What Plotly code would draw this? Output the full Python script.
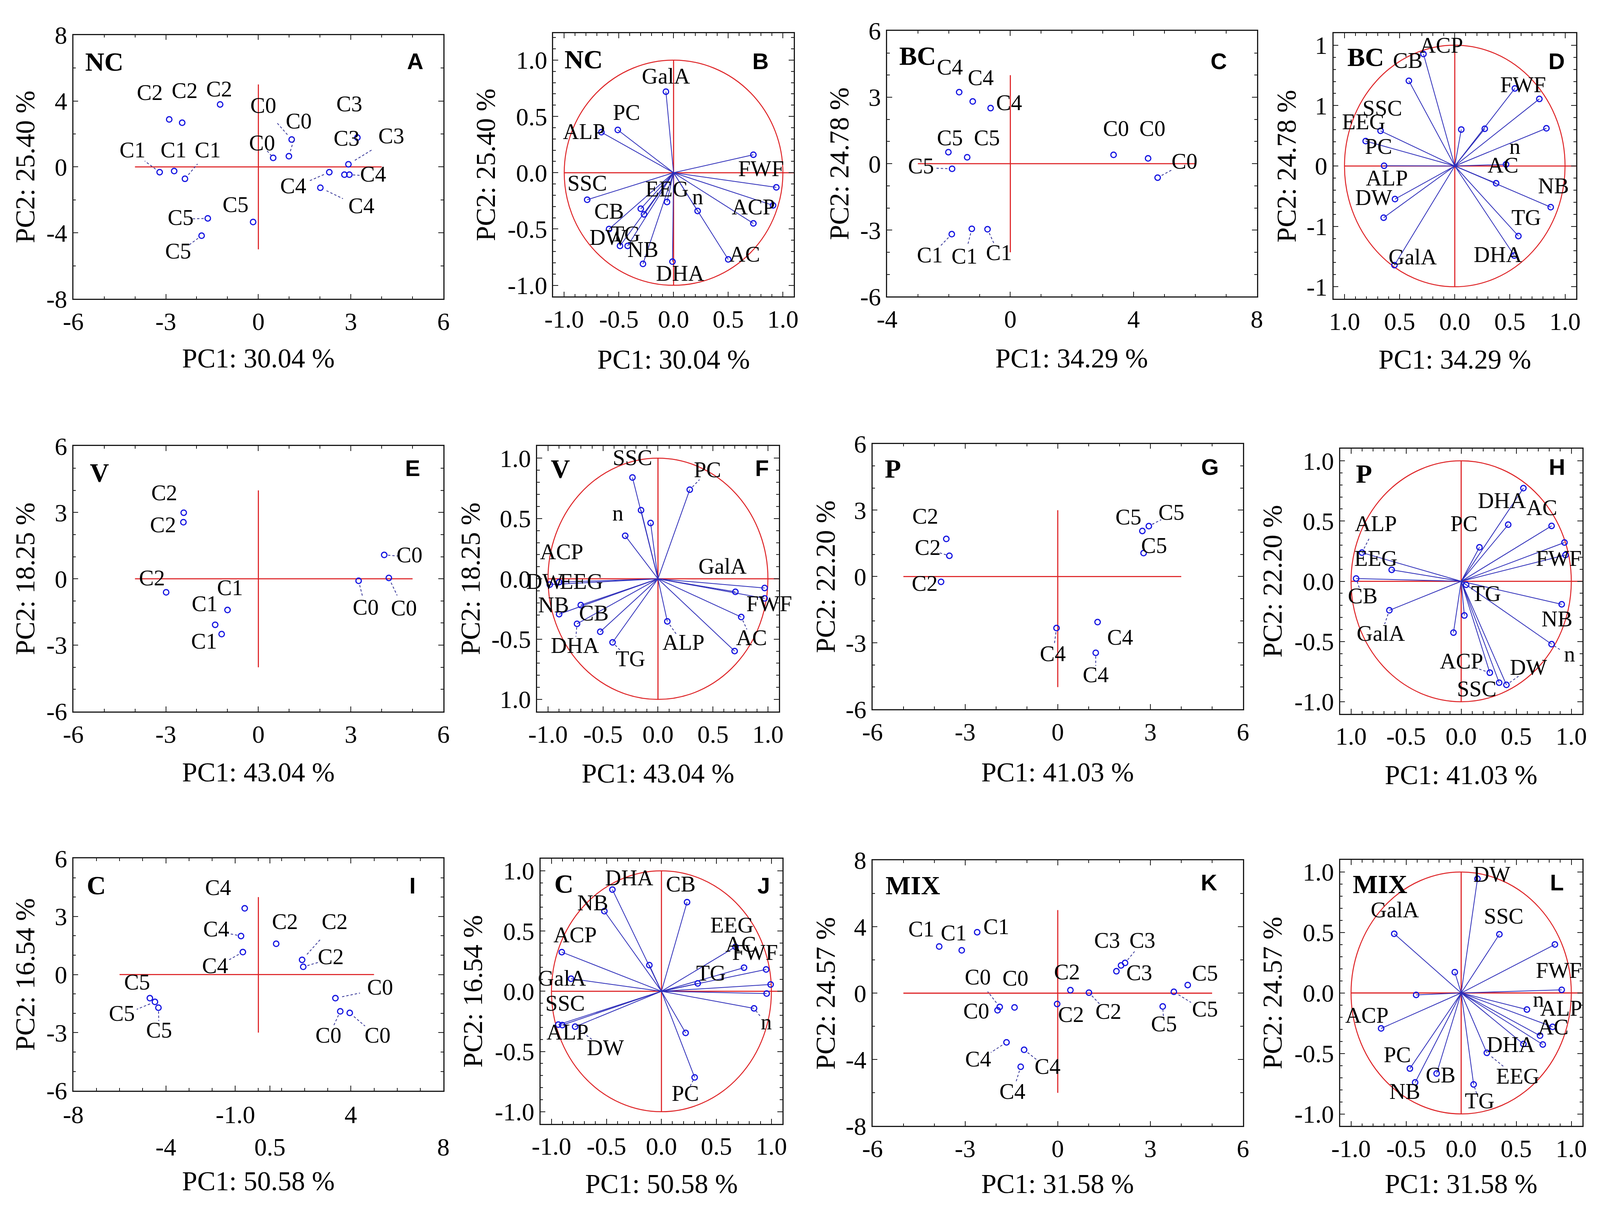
import plotly.graph_objects as go

# reference geometry (pixels of the reference picture) -> paper fractions
RW, RH = 4550, 3119
FIG_W, FIG_H = 4080, 3103          # browser viewport is 4096 x 3119 with an 8 px body margin
SERIF = "Liberation Serif"
SANS = "Liberation Sans"

# ------------------------------------------------------------------ data
# Score plots (samples): PC1, PC2, label position, leader flag
A_sample = ["C2","C2","C2","C0","C0","C0","C3","C3","C3","C4","C4","C4","C1","C1","C1","C5","C5","C5"]
A_pc1 = [-2.89,-2.47,-1.24, 1.08,0.99,0.48, 3.21,2.79,2.92, 2.30,2.95,2.01, -3.20,-2.73,-2.38, -0.17,-1.64,-1.84]
A_pc2 = [2.88,2.68,3.79, 1.66,0.65,0.55, 1.78,-0.47,0.16, -0.32,-0.47,-1.26, -0.32,-0.25,-0.72, -3.34,-3.12,-4.17]
A_lab_x = [-3.52,-2.39,-1.27, 0.16,1.31,0.12, 2.95,2.86,4.31, 1.13,3.72,3.34, -4.08,-2.75,-1.64, -0.74,-2.52,-2.60]
A_lab_y = [4.40,4.51,4.61, 3.62,2.68,1.34, 3.70,1.62,1.76, -1.27,-0.56,-2.47, 0.92,0.92,0.92, -2.40,-3.17,-5.22]
A_leader = [0,0,0, 1,1,1, 0,0,1, 1,1,1, 1,0,1, 0,1,1]

C_sample = ["C4","C4","C4","C5","C5","C5","C1","C1","C1","C0","C0","C0"]
C_pc1 = [-1.66,-1.22,-0.64, -2.01,-1.40,-1.89, -1.90,-1.25,-0.74, 3.35,4.47,4.78]
C_pc2 = [3.23,2.81,2.51, 0.52,0.29,-0.23, -3.18,-2.94,-2.96, 0.40,0.24,-0.63]
C_lab_x = [-1.96,-0.96,-0.04, -1.96,-0.76,-2.90, -2.61,-1.49,-0.37, 3.43,4.61,5.65]
C_lab_y = [4.27,3.80,2.67, 1.08,1.08,-0.18, -4.21,-4.26,-4.10, 1.50,1.50,0.03]
C_leader = [0,0,0, 0,0,1, 1,1,1, 0,0,1]

E_sample = ["C2","C2","C2","C1","C1","C1","C0","C0","C0"]
E_pc1 = [-2.42,-2.43,-2.99, -1.00,-1.40,-1.19, 4.08,3.25,4.23]
E_pc2 = [2.99,2.56,-0.61, -1.41,-2.08,-2.50, 1.08,-0.09,0.04]
E_lab_x = [-3.05,-3.09,-3.45, -0.92,-1.74,-1.76, 4.90,3.48,4.72]
E_lab_y = [3.81,2.36,-0.05, -0.49,-1.21,-2.90, 0.99,-1.37,-1.40]
E_leader = [0,0,0, 0,0,0, 1,1,1]

G_sample = ["C2","C2","C2","C5","C5","C5","C4","C4","C4"]
G_pc1 = [-3.61,-3.51,-3.78, 2.74,2.95,2.78, -0.04,1.29,1.23]
G_pc2 = [1.70,0.94,-0.24, 2.06,2.28,1.06, -2.33,-2.06,-3.45]
G_lab_x = [-4.29,-4.21,-4.31, 2.29,3.68,3.12, -0.16,2.02,1.23]
G_lab_y = [2.65,1.23,-0.39, 2.60,2.81,1.31, -3.57,-2.83,-4.52]
G_leader = [0,1,0, 0,1,0, 1,0,1]

I_sample = ["C4","C4","C4","C2","C2","C2","C5","C5","C5","C0","C0","C0"]
I_pc1 = [-0.59,-0.75,-0.67, 0.77,1.89,1.94, -4.69,-4.47,-4.32, 3.33,3.54,3.95]
I_pc2 = [3.42,1.99,1.16, 1.59,0.76,0.40, -1.22,-1.41,-1.71, -1.22,-1.90,-1.98]
I_lab_x = [-1.74,-1.82,-1.87, 1.15,3.30,3.13, -5.24,-5.90,-4.29, 5.26,3.03,5.15]
I_lab_y = [4.40,2.25,0.36, 2.64,2.64,0.82, -0.48,-2.11,-2.96, -0.74,-3.22,-3.22]
I_leader = [0,1,1, 0,1,1, 0,1,1, 1,1,1]

K_sample = ["C1","C1","C1","C0","C0","C0","C2","C2","C2","C3","C3","C3","C4","C4","C4","C5","C5","C5"]
K_pc1 = [-3.84,-3.11,-2.61, -1.95,-1.88,-1.40, 0.41,1.01,-0.02, 1.90,2.05,2.18, -1.66,-1.09,-1.20, 4.21,3.76,3.40]
K_pc2 = [2.81,2.58,3.67, -1.03,-0.83,-0.86, 0.18,0.03,-0.65, 1.32,1.67,1.82, -2.96,-3.41,-4.43, 0.49,0.08,-0.80]
K_lab_x = [-4.42,-3.37,-1.99, -2.64,-2.59,-1.37, 0.30,1.64,0.43, 1.60,2.64,2.74, -2.58,-0.33,-1.47, 4.77,4.77,3.44]
K_lab_y = [3.75,3.52,3.90, -1.18,0.86,0.79, 1.17,-1.21,-1.41, 3.07,1.12,3.07, -4.07,-4.52,-6.04, 1.10,-1.08,-1.97]
K_leader = [0,0,0, 0,1,0, 0,1,0, 0,0,1, 1,1,1, 0,1,1]

# Loading plots (variables): vector end points, label texts and positions
B_pc1 = [-0.07,-0.51,-0.66,0.73,0.94,0.91,0.73,0.50,0.22,-0.01,-0.28,-0.42,-0.49,-0.59,-0.30,-0.27,-0.06,-0.79]
B_pc2 = [0.72,0.38,0.36,0.16,-0.13,-0.29,-0.45,-0.77,-0.34,-0.79,-0.81,-0.65,-0.65,-0.50,-0.32,-0.37,-0.26,-0.24]
B_lab = ["GalA","PC","ALP","FWF","SSC","EEG","n","ACP","CB","DW","TG","NB","AC","DHA"]
B_lab_x = [-0.07,-0.43,-0.82,0.80,-0.79,-0.06,0.22,0.73,-0.59,-0.60,-0.44,-0.28,0.65,0.06]
B_lab_y = [0.84,0.52,0.35,0.02,-0.11,-0.16,-0.23,-0.32,-0.36,-0.59,-0.56,-0.70,-0.74,-0.91]
B_leaders = []

D_pc1 = [-0.284,-0.416,0.545,0.767,0.059,0.272,0.831,-0.673,-0.808,-0.641,0.465,0.375,0.870,-0.542,-0.645,0.577,0.540,-0.547]
D_pc2 = [0.927,0.705,0.642,0.555,0.302,0.308,0.312,0.291,0.206,0.002,0.013,-0.143,-0.341,-0.274,-0.428,-0.580,-0.742,-0.821]
D_lab = ["ACP","CB","FWF","SSC","EEG","PC","n","AC","ALP","DW","NB","TG","GalA","DHA"]
D_lab_x = [-0.121,-0.426,0.620,-0.657,-0.826,-0.691,0.545,0.437,-0.616,-0.735,0.895,0.648,-0.382,0.391]
D_lab_y = [0.985,0.859,0.657,0.464,0.349,0.146,0.146,-0.008,-0.114,-0.277,-0.181,-0.441,-0.769,-0.750]
D_leaders = []

F_pc1 = [-0.232,0.289,-0.154,-0.067,-0.298,-0.984,-0.899,-0.899,-0.702,-0.736,-0.525,-0.413,0.085,0.970,0.704,0.970,0.757,0.697]
F_pc2 = [0.840,0.739,0.569,0.463,0.357,-0.048,-0.028,-0.293,-0.218,-0.373,-0.439,-0.527,-0.353,-0.076,-0.108,-0.162,-0.317,-0.599]
F_lab = ["SSC","PC","n","ACP","GalA","DW","EEG","NB","CB","FWF","DHA","TG","ALP","AC"]
F_lab_x = [-0.232,0.450,-0.365,-0.876,0.587,-1.030,-0.697,-0.950,-0.583,1.011,-0.755,-0.250,0.232,0.851]
F_lab_y = [0.990,0.890,0.529,0.208,0.088,-0.036,-0.036,-0.232,-0.299,-0.222,-0.567,-0.679,-0.543,-0.503]
F_leaders = [(1, 1), (10, 9), (11, 11), (12, 12), (13, 16)]

H_pc1 = [0.565,0.427,0.821,0.938,0.947,0.166,-0.901,-0.631,-0.954,0.045,-0.652,0.029,-0.070,0.913,0.821,0.260,0.345,0.411]
H_pc2 = [0.773,0.470,0.460,0.322,0.218,0.282,0.238,0.095,0.023,-0.029,-0.241,-0.284,-0.426,-0.191,-0.522,-0.759,-0.842,-0.860]
H_lab = ["DHA","AC","PC","ALP","EEG","FWF","CB","TG","NB","GalA","n","ACP","DW","SSC"]
H_lab_x = [0.370,0.732,0.026,-0.775,-0.775,0.886,-0.894,0.226,0.870,-0.730,0.984,0.003,0.611,0.141]
H_lab_y = [0.655,0.595,0.464,0.464,0.173,0.173,-0.138,-0.117,-0.328,-0.448,-0.619,-0.679,-0.729,-0.910]
H_leaders = [(3, 6), (6, 8), (9, 10), (10, 14), (12, 17), (11, 15)]

J_pc1 = [-0.446,-0.519,0.233,-0.110,-0.906,-0.822,0.673,0.751,0.952,0.330,0.993,0.957,0.842,0.220,0.302,-0.938,-0.902,-0.785]
J_pc2 = [0.844,0.665,0.740,0.217,0.325,0.104,0.369,0.196,0.181,0.065,0.056,-0.019,-0.142,-0.346,-0.715,-0.277,-0.281,-0.294]
J_lab = ["DHA","CB","NB","EEG","ACP","AC","FWF","TG","GalA","SSC","ALP","n","DW","PC"]
J_lab_x = [-0.293,0.176,-0.625,0.641,-0.785,0.721,0.851,0.451,-0.904,-0.876,-0.854,0.954,-0.510,0.217]
J_lab_y = [0.927,0.875,0.719,0.535,0.452,0.375,0.306,0.135,0.094,-0.115,-0.354,-0.271,-0.485,-0.865]
J_leaders = [(13, 14), (11, 12), (12, 17)]

L_pc1 = [0.148,-0.608,0.347,0.851,-0.058,-0.409,0.913,-0.727,0.597,0.830,0.716,0.741,0.565,0.233,-0.466,-0.223,-0.418,0.113]
L_pc2 = [0.944,0.489,0.485,0.401,0.172,-0.016,0.026,-0.293,-0.137,-0.280,-0.353,-0.426,-0.422,-0.495,-0.625,-0.666,-0.739,-0.756]
L_lab = ["DW","GalA","SSC","FWF","n","ALP","ACP","AC","DHA","PC","CB","EEG","NB","TG"]
L_lab_x = [0.278,-0.603,0.386,0.886,0.702,0.908,-0.856,0.835,0.450,-0.580,-0.187,0.514,-0.512,0.168]
L_lab_y = [0.964,0.673,0.620,0.172,-0.068,-0.141,-0.199,-0.297,-0.443,-0.527,-0.693,-0.704,-0.829,-0.908]
L_leaders = [(11, 13), (13, 17)]

# Axis tick values / labels
score_ticks_6 = [-6, -3, 0, 3, 6]
score_ticks_8 = [-8, -4, 0, 4, 8]
C_xticks = [-4, 0, 4, 8]
I_xticks_row1 = [-8, -1, 4]
I_xticktext_row1 = ["-8", "-1.0", "4"]
I_xticks_row2 = [-4, 0.5, 8]
I_xticktext_row2 = ["-4", "0.5", "8"]
load_ticks = [-1, -0.5, 0, 0.5, 1]
load_ticktext = ["-1.0", "-0.5", "0.0", "0.5", "1.0"]
D_xticktext = ["1.0", "0.5", "0.0", "0.5", "1.0"]
D_yticktext = ["-1", "-1", "0", "1", "1"]
F_yticktext = ["1.0", "-0.5", "0.0", "0.5", "1.0"]
H_xticktext = ["1.0", "-0.5", "0.0", "0.5", "1.0"]

PC1_titles = {"A": "PC1: 30.04 %", "C": "PC1: 34.29 %", "E": "PC1: 43.04 %",
              "G": "PC1: 41.03 %", "I": "PC1: 50.58 %", "K": "PC1: 31.58 %"}
PC2_titles = {"A": "PC2: 25.40 %", "C": "PC2: 24.78 %", "E": "PC2: 18.25 %",
              "G": "PC2: 22.20 %", "I": "PC2: 16.54 %", "K": "PC2: 24.57 %"}

# ------------------------------------------------------------------ layout spec
def tt(vals):
    return [str(v) for v in vals]

panels = [
    dict(key="A", kind="score", box=(172, 1240, 48, 743), xr=(-6, 6), yr=(-8, 8),
         xt=score_ticks_6, xtt=tt(score_ticks_6), yt=score_ticks_8, ytt=tt(score_ticks_8),
         xm=1, ym=2, hl=(-4, 4), vl=(-5, 5), group="NC", tk="A",
         data=(A_sample, A_pc1, A_pc2, A_lab_x, A_lab_y, A_leader),
         grp=(204, 92), let=(1184, 92), xtit=(706, 900), ytit=33),
    dict(key="B", kind="load", box=(1557, 2251, 43, 737), xr=(-1.1, 1.1), yr=(-1.1, 1.24),
         xt=load_ticks, xtt=load_ticktext, yt=load_ticks, ytt=load_ticktext,
         group="NC", tk="A",
         data=(B_pc1, B_pc2, B_lab, B_lab_x, B_lab_y, B_leaders),
         grp=(1587, 86), let=(2181, 92), xtit=(1904, 903), ytit=1362),
    dict(key="C", kind="score", box=(2520, 3587, 37, 737), xr=(-4, 8), yr=(-6, 6),
         xt=C_xticks, xtt=tt(C_xticks), yt=score_ticks_6, ytt=tt(score_ticks_6),
         xm=1, ym=1, hl=(-3, 6), vl=(-4, 4), group="BC", tk="C",
         data=(C_sample, C_pc1, C_pc2, C_lab_x, C_lab_y, C_leader),
         grp=(2553, 77), let=(3503, 92), xtit=(3053, 900), ytit=2382),
    dict(key="D", kind="load", box=(3808, 4508, 43, 743), xr=(-1.1, 1.1), yr=(-1.1, 1.1),
         xt=load_ticks, xtt=D_xticktext, yt=load_ticks, ytt=D_yticktext,
         group="BC", tk="C",
         data=(D_pc1, D_pc2, D_lab, D_lab_x, D_lab_y, D_leaders),
         grp=(3846, 80), let=(4478, 92), xtit=(4158, 903), ytit=3672),
    dict(key="E", kind="score", box=(172, 1240, 1131, 1830), xr=(-6, 6), yr=(-6, 6),
         xt=score_ticks_6, xtt=tt(score_ticks_6), yt=score_ticks_6, ytt=tt(score_ticks_6),
         xm=1, ym=1, hl=(-4, 5), vl=(-4, 4), group="V", tk="E",
         data=(E_sample, E_pc1, E_pc2, E_lab_x, E_lab_y, E_leader),
         grp=(218, 1174), let=(1176, 1164), xtit=(706, 1990), ytit=33),
    dict(key="F", kind="load", box=(1510, 2208, 1131, 1830), xr=(-1.1, 1.1), yr=(-1.1, 1.1),
         xt=load_ticks, xtt=load_ticktext, yt=load_ticks, ytt=F_yticktext,
         group="V", tk="E",
         data=(F_pc1, F_pc2, F_lab, F_lab_x, F_lab_y, F_leaders),
         grp=(1547, 1164), let=(2181, 1164), xtit=(1859, 1993), ytit=1318),
    dict(key="G", kind="score", box=(2478, 3547, 1125, 1824), xr=(-6, 6), yr=(-6, 6),
         xt=score_ticks_6, xtt=tt(score_ticks_6), yt=score_ticks_6, ytt=tt(score_ticks_6),
         xm=1, ym=1, hl=(-5, 4), vl=(-5, 3), group="P", tk="G",
         data=(G_sample, G_pc1, G_pc2, G_lab_x, G_lab_y, G_leader),
         grp=(2511, 1164), let=(3479, 1161), xtit=(3012, 1990), ytit=2342),
    dict(key="H", kind="load", box=(3827, 4526, 1138, 1836), xr=(-1.1, 1.1), yr=(-1.1, 1.1),
         xt=load_ticks, xtt=H_xticktext, yt=load_ticks, ytt=load_ticktext,
         group="P", tk="G",
         data=(H_pc1, H_pc2, H_lab, H_lab_x, H_lab_y, H_leaders),
         grp=(3870, 1177), let=(4479, 1161), xtit=(4176, 1997), ytit=3632),
    dict(key="I", kind="score", box=(172, 1240, 2217, 2829), xr=(-8, 8), yr=(-6, 6),
         xt=I_xticks_row1 + I_xticks_row2, xtt=["", "", "", "", "", ""],
         yt=score_ticks_6, ytt=tt(score_ticks_6),
         xm=1, ym=1, hl=(-6, 5), vl=(-3, 4), group="C", tk="I",
         data=(I_sample, I_pc1, I_pc2, I_lab_x, I_lab_y, I_leader),
         grp=(209, 2262), let=(1162, 2264), xtit=(706, 3067), ytit=33),
    dict(key="J", kind="load", box=(1520, 2218, 2218, 2916), xr=(-1.1, 1.1), yr=(-1.1, 1.1),
         xt=load_ticks, xtt=load_ticktext, yt=load_ticks, ytt=load_ticktext,
         group="C", tk="I",
         data=(J_pc1, J_pc2, J_lab, J_lab_x, J_lab_y, J_leaders),
         grp=(1558, 2258), let=(2184, 2264), xtit=(1869, 3074), ytit=1325),
    dict(key="K", kind="score", box=(2478, 3547, 2222, 2922), xr=(-6, 6), yr=(-8, 8),
         xt=score_ticks_6, xtt=tt(score_ticks_6), yt=score_ticks_8, ytt=tt(score_ticks_8),
         xm=1, ym=2, hl=(-5, 5), vl=(-6, 5), group="MIX", tk="K",
         data=(K_sample, K_pc1, K_pc2, K_lab_x, K_lab_y, K_leader),
         grp=(2513, 2262), let=(3475, 2256), xtit=(3012, 3074), ytit=2342),
    dict(key="L", kind="load", box=(3827, 4526, 2221, 2922), xr=(-1.1, 1.1), yr=(-1.1, 1.1),
         xt=load_ticks, xtt=load_ticktext, yt=load_ticks, ytt=load_ticktext,
         group="MIX", tk="K",
         data=(L_pc1, L_pc2, L_lab, L_lab_x, L_lab_y, L_leaders),
         grp=(3861, 2259), let=(4475, 2256), xtit=(4176, 3074), ytit=3632),
]

RED = "rgb(222,35,38)"
BLUE = "rgb(20,20,225)"
VEC = "rgb(45,45,185)"
LEAD = "rgb(50,50,150)"
FRAME = "#1a1a1a"

TICK_FS = 64
TITLE_FS = 70
LABEL_FS = 57
GROUP_FS = 68
LETTER_FS = 58

fig = go.Figure()
shapes, annotations = [], []
layout = dict(width=FIG_W, height=FIG_H, autosize=False, margin=dict(l=0, r=0, t=0, b=0, pad=0),
              paper_bgcolor="white", plot_bgcolor="white", showlegend=False)


def px(x):
    return x / RW


def py(y):
    return 1 - y / RH


for i, p in enumerate(panels, start=1):
    xa = "xaxis" if i == 1 else f"xaxis{i}"
    ya = "yaxis" if i == 1 else f"yaxis{i}"
    xr_ = "x" if i == 1 else f"x{i}"
    yr_ = "y" if i == 1 else f"y{i}"
    x0, x1, yt0, yb0 = p["box"]
    load = p["kind"] == "load"
    mx = 0.1 if load else p["xm"]
    my = 0.1 if load else p["ym"]
    common = dict(showline=True, linecolor=FRAME, linewidth=2.5, mirror="allticks",
                  ticks="inside", ticklen=13, tickwidth=2.2, tickcolor=FRAME,
                  showgrid=False, zeroline=False, tickmode="array", fixedrange=True,
                  tickangle=0,
                  tickfont=dict(family=SERIF, size=TICK_FS, color="black"))
    layout[xa] = dict(common, domain=[px(x0), px(x1)], range=list(p["xr"]), anchor=yr_,
                      tickvals=p["xt"], ticktext=p["xtt"], ticklabelstandoff=0,
                      minor=dict(ticks="inside", ticklen=7, tickwidth=1.8, tickcolor=FRAME,
                                 tickmode="linear", tick0=0, dtick=mx, showgrid=False))
    layout[ya] = dict(common, domain=[py(yb0), py(yt0)], range=list(p["yr"]), anchor=xr_,
                      tickvals=p["yt"], ticktext=p["ytt"], ticklabelstandoff=0,
                      minor=dict(ticks="inside", ticklen=7, tickwidth=1.8, tickcolor=FRAME,
                                 tickmode="linear", tick0=0, dtick=my, showgrid=False))

    # reference lines
    if load:
        shapes.append(dict(type="circle", xref=xr_, yref=yr_, x0=-1, x1=1, y0=-1, y1=1,
                           line=dict(color=RED, width=2.5), layer="below"))
        hl, vl = (-1, 1.1), (-1, 1)
    else:
        hl, vl = p["hl"], p["vl"]
    shapes.append(dict(type="line", xref=xr_, yref=yr_, x0=hl[0], x1=hl[1], y0=0, y1=0,
                       line=dict(color=RED, width=2.8), layer="below"))
    shapes.append(dict(type="line", xref=xr_, yref=yr_, x0=0, x1=0, y0=vl[0], y1=vl[1],
                       line=dict(color=RED, width=2.8), layer="below"))

    if load:
        pc1, pc2, lab, lx, ly, leaders = p["data"]
        vx, vy = [], []
        for a, b in zip(pc1, pc2):
            vx += [0, a, None]
            vy += [0, b, None]
        fig.add_trace(go.Scatter(x=vx, y=vy, mode="lines", xaxis=xr_, yaxis=yr_,
                                 line=dict(color=VEC, width=2), hoverinfo="skip"))
        fig.add_trace(go.Scatter(x=pc1, y=pc2, mode="markers", xaxis=xr_, yaxis=yr_,
                                 marker=dict(symbol="circle-open", size=14, color=BLUE,
                                             line=dict(width=3, color=BLUE))))
        lead_pairs = [(lx[li], ly[li], pc1[pi], pc2[pi]) for li, pi in leaders]
        txt = lab
    else:
        samp, pc1, pc2, lx, ly, flags = p["data"]
        fig.add_trace(go.Scatter(x=pc1, y=pc2, mode="markers", xaxis=xr_, yaxis=yr_,
                                 marker=dict(symbol="circle-open", size=14, color=BLUE,
                                             line=dict(width=3, color=BLUE))))
        lead_pairs = [(lx[k], ly[k], pc1[k], pc2[k]) for k in range(len(flags)) if flags[k]]
        txt = samp
    if lead_pairs:
        lxs, lys = [], []
        for (la, lb, a, b) in lead_pairs:
            lxs += [a + 0.15 * (la - a), a + 0.55 * (la - a), None]
            lys += [b + 0.15 * (lb - b), b + 0.55 * (lb - b), None]
        fig.add_trace(go.Scatter(x=lxs, y=lys, mode="lines", xaxis=xr_, yaxis=yr_,
                                 line=dict(color=LEAD, width=2, dash="6px,5px"),
                                 hoverinfo="skip"))
    fig.add_trace(go.Scatter(x=lx, y=ly, text=txt, mode="text", xaxis=xr_, yaxis=yr_,
                             textposition="middle center", cliponaxis=False,
                             textfont=dict(family=SERIF, size=LABEL_FS, color="black"),
                             hoverinfo="skip"))

    # two-row tick labels of panel I
    if p["key"] == "I":
        for vals, texts, ypix in ((I_xticks_row1, I_xticktext_row1, 2892),
                                  (I_xticks_row2, I_xticktext_row2, 2978)):
            for v, t in zip(vals, texts):
                annotations.append(dict(xref=xr_, yref="paper", x=v, y=py(ypix),
                                        xanchor="center", yanchor="middle", showarrow=False,
                                        text=t, font=dict(family=SERIF, size=TICK_FS, color="black")))

    # group label, panel letter, axis titles
    gx, gy = p["grp"]
    annotations.append(dict(xref="paper", yref="paper", x=px(gx), y=py(gy - 15),
                            xanchor="left", yanchor="top", showarrow=False,
                            text=f"<b>{p['group']}</b>",
                            font=dict(family=SERIF, size=GROUP_FS, color="black")))
    lxp, lyp = p["let"]
    annotations.append(dict(xref="paper", yref="paper", x=px(lxp), y=py(lyp - 11),
                            xanchor="right", yanchor="top", showarrow=False,
                            text=f"<b>{p['key']}</b>",
                            font=dict(family=SANS, size=LETTER_FS, color="black")))
    tx, ty = p["xtit"]
    annotations.append(dict(xref="paper", yref="paper", x=px(tx), y=py(ty),
                            xanchor="center", yanchor="middle", showarrow=False,
                            text=PC1_titles[p["tk"]],
                            font=dict(family=SERIF, size=TITLE_FS, color="black")))
    annotations.append(dict(xref="paper", yref="paper", x=px(p["ytit"]), y=py((yt0 + yb0) / 2),
                            xanchor="center", yanchor="middle", showarrow=False, textangle=-90,
                            text=PC2_titles[p["tk"]],
                            font=dict(family=SERIF, size=TITLE_FS, color="black")))

layout["shapes"] = shapes
layout["annotations"] = annotations
fig.update_layout(**layout)
fig.write_html("out.html")
